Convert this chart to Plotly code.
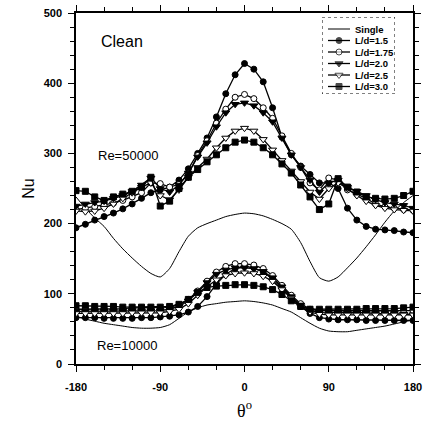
import plotly.graph_objects as go

# Angular position around the cylinder (degrees)
theta = list(range(-180, 190, 10))

# Re = 50000
single_hi = [238, 222, 208, 196, 179, 164, 151, 139, 129, 124,
             136, 160, 182, 194, 200, 205, 210, 213, 215,
             214, 211, 206, 200, 192, 173, 146, 123, 118,
             124, 137, 151, 167, 184, 202, 218, 230, 240]
ld15_hi = [194, 199, 205, 210, 215, 221, 228, 236, 244, 248,
           252, 262, 278, 300, 322, 352, 385, 412, 428,
           420, 402, 365, 323, 298, 282, 270, 258, 258,
           250, 222, 205, 196, 192, 191, 190, 188, 187]
ld175_hi = [220, 222, 224, 226, 229, 233, 238, 244, 258, 257,
            252, 256, 271, 297, 318, 343, 363, 380, 384,
            378, 365, 350, 325, 300, 280, 258, 248, 265,
            262, 248, 242, 236, 228, 224, 222, 220, 219]
ld20_hi = [225, 228, 230, 232, 236, 240, 246, 255, 265, 250,
           245, 255, 272, 295, 315, 338, 358, 370, 372,
           368, 358, 345, 322, 298, 280, 262, 245, 258,
           262, 252, 246, 240, 234, 230, 228, 226, 222]
ld25_hi = [218, 217, 218, 222, 228, 236, 244, 252, 258, 240,
           234, 248, 266, 280, 292, 308, 322, 332, 336,
           332, 320, 305, 290, 275, 260, 245, 235, 250,
           258, 250, 240, 232, 226, 222, 220, 219, 218]
ld30_hi = [247, 246, 238, 233, 238, 242, 246, 252, 266, 225,
           232, 250, 266, 277, 288, 298, 308, 316, 319,
           316, 308, 298, 285, 272, 255, 238, 220, 228,
           264, 252, 245, 238, 236, 235, 236, 240, 246]

# Re = 10000
single_lo = [68, 64, 61, 58, 56, 54, 52, 51, 51, 52,
             56, 65, 74, 80, 84, 86, 88, 89, 90,
             89, 87, 84, 79, 74, 66, 58, 51, 47,
             46, 46, 48, 50, 52, 54, 57, 60, 63]
ld15_lo = [66, 66, 66, 65, 65, 65, 65, 66, 66, 67,
           68, 70, 74, 82, 96, 114, 128, 136, 139,
           137, 131, 121, 108, 94, 82, 72, 66, 64,
           63, 63, 63, 62, 62, 62, 62, 62, 62]
ld175_lo = [78, 78, 79, 79, 79, 79, 80, 80, 80, 80,
            81, 84, 92, 104, 118, 131, 139, 143, 143,
            141, 136, 126, 112, 98, 86, 78, 76, 76,
            76, 77, 77, 77, 77, 76, 76, 76, 76]
ld20_lo = [75, 75, 75, 75, 75, 75, 76, 76, 76, 76,
           78, 82, 90, 102, 116, 128, 134, 137, 137,
           136, 132, 123, 110, 96, 84, 76, 74, 74,
           73, 73, 73, 73, 72, 72, 72, 71, 70]
ld25_lo = [72, 72, 72, 72, 72, 72, 73, 73, 73, 73,
           75, 78, 86, 98, 110, 120, 126, 129, 130,
           129, 125, 118, 106, 94, 82, 74, 71, 70,
           70, 70, 70, 70, 70, 70, 70, 70, 70]
ld30_lo = [83, 83, 82, 82, 82, 81, 81, 81, 81, 81,
           82, 85, 92, 102, 109, 111, 112, 113, 113,
           112, 110, 106, 99, 90, 82, 78, 78, 78,
           78, 78, 78, 79, 79, 79, 79, 80, 81]

series_names = ["Single", "L/d=1.5", "L/d=1.75", "L/d=2.0", "L/d=2.5", "L/d=3.0"]
series_hi = [single_hi, ld15_hi, ld175_hi, ld20_hi, ld25_hi, ld30_hi]
series_lo = [single_lo, ld15_lo, ld175_lo, ld20_lo, ld25_lo, ld30_lo]

# marker styles: (symbol, fill colour, size); None = plain line
styles = [None,
          ("circle", "black", 6),
          ("circle", "white", 6),
          ("triangle-down", "black", 7),
          ("triangle-down", "white", 7),
          ("square", "black", 6)]

fig = go.Figure()

for name, hi, lo, st in zip(series_names, series_hi, series_lo, styles):
    for ys in (hi, lo):
        if st is None:
            fig.add_trace(go.Scatter(
                x=theta, y=ys, mode="lines", showlegend=False,
                line=dict(color="black", width=1, shape="spline", smoothing=0.6)))
        else:
            sym, fill, size = st
            fig.add_trace(go.Scatter(
                x=theta, y=ys, mode="lines+markers", showlegend=False,
                line=dict(color="black", width=1.3),
                marker=dict(symbol=sym, color=fill, size=size,
                            line=dict(color="black", width=1))))

# Hand-built key in its own small axes (pixel-like units)
key_w, key_h = 73, 77
for i, (name, st) in enumerate(zip(series_names, styles)):
    yk = 12 + 11.5 * i
    if st is None:
        fig.add_trace(go.Scatter(x=[6, 28], y=[yk, yk], mode="lines",
                                 xaxis="x2", yaxis="y2", showlegend=False,
                                 line=dict(color="black", width=1)))
    else:
        sym, fill, size = st
        fig.add_trace(go.Scatter(x=[6, 17, 28], y=[yk, yk, yk], mode="lines+markers",
                                 xaxis="x2", yaxis="y2", showlegend=False,
                                 line=dict(color="black", width=1.3),
                                 marker=dict(symbol=sym, color=fill, size=[0, size, 0],
                                             line=dict(color="black", width=1))))
    fig.add_annotation(x=31, y=yk, xref="x2", yref="y2", text=name, showarrow=False,
                       xanchor="left", yanchor="middle",
                       font=dict(family="Liberation Sans", size=9.5, color="black", weight="bold"))

fig.add_shape(type="rect", xref="x2", yref="y2", x0=0, x1=key_w, y0=0, y1=key_h,
              line=dict(color="black", width=1, dash="dot"), fillcolor="white", layer="below")

txt_font = dict(family="Liberation Sans", color="black")
fig.add_annotation(x=-155, y=460, text="Clean", showarrow=False, xanchor="left",
                   yanchor="middle", font=dict(size=16, **txt_font))
fig.add_annotation(x=-159, y=297, text="Re=50000", showarrow=False, xanchor="left",
                   yanchor="middle", font=dict(size=13, **txt_font))
fig.add_annotation(x=-160, y=26, text="Re=10000", showarrow=False, xanchor="left",
                   yanchor="middle", font=dict(size=13, **txt_font))

tick_font = dict(family="Liberation Sans", size=11, color="black", weight="bold")

fig.update_layout(
    width=432, height=428,
    margin=dict(l=76, r=19, t=13, b=64, autoexpand=False),
    paper_bgcolor="white", plot_bgcolor="white",
    xaxis=dict(range=[-180, 180], tickmode="array", tickvals=[-180, -90, 0, 90, 180],
               ticktext=["-180", "-90", "0", "90", "180"], automargin=False,
               ticks="outside", ticklen=6, tickwidth=1, tickcolor="black",
               minor=dict(tickmode="array", tickvals=[-150, -120, -60, -30, 30, 60, 120, 150],
                          ticks="outside", ticklen=4, tickcolor="black"),
               showline=True, linecolor="black", linewidth=1.5, mirror="allticks",
               showgrid=False, zeroline=False, tickfont=tick_font, ticklabelstandoff=6,
               title=dict(text="θ<sup>o</sup>", standoff=12,
                          font=dict(family="Liberation Serif", size=18, color="black"))),
    yaxis=dict(range=[0, 500], dtick=100, ticks="outside", ticklen=6, tickwidth=1,
               tickcolor="black", automargin=False,
               minor=dict(dtick=20, ticks="outside", ticklen=4, tickcolor="black"),
               showline=True, linecolor="black", linewidth=1.5, mirror="allticks",
               showgrid=False, zeroline=False, tickfont=tick_font, ticklabelstandoff=4,
               title=dict(text="Nu", standoff=5,
                          font=dict(family="Liberation Sans", size=16, color="black"))),
    xaxis2=dict(domain=[(322 - 76) / 337, (395 - 76) / 337], range=[0, key_w],
                anchor="y2", visible=False, fixedrange=True),
    yaxis2=dict(domain=[(364 - 94) / 351, (364 - 17) / 351], range=[key_h, 0],
                anchor="x2", visible=False, fixedrange=True),
)

fig.write_html("out.html")
